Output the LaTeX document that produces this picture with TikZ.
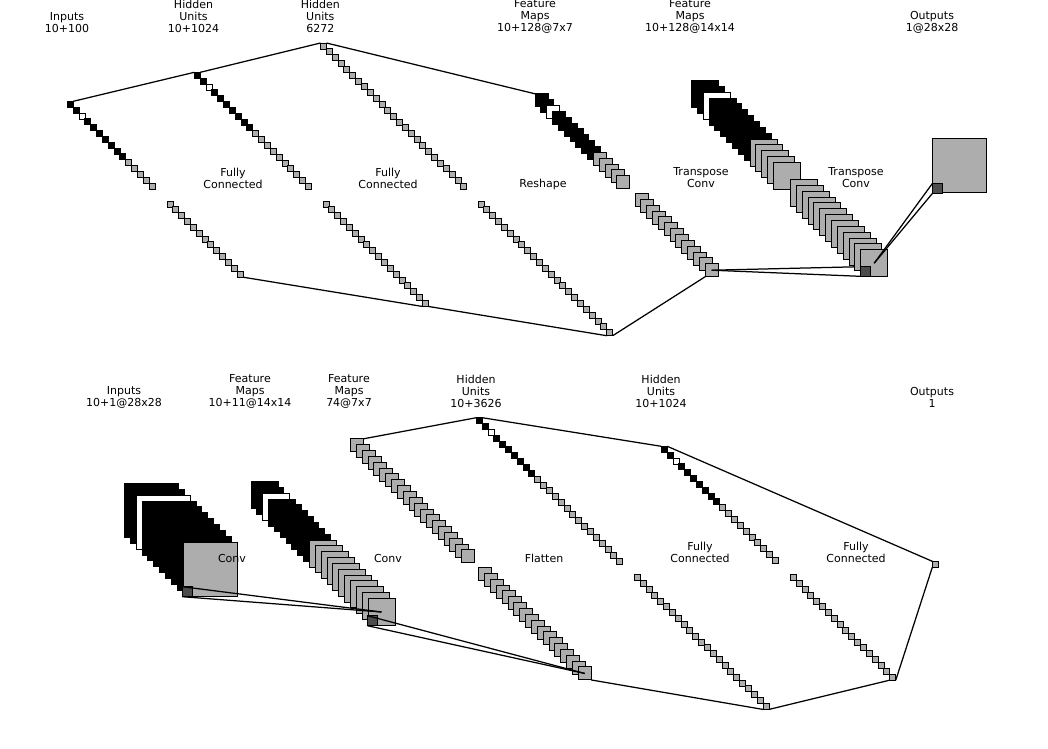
\documentclass[tikz,border=0pt]{standalone}
\usepackage{fontspec}
\setmainfont{DejaVu Sans}
\usetikzlibrary{positioning}
\definecolor{cellgray}{gray}{0.68}
\definecolor{patchgray}{gray}{0.3}
\tikzset{
  cell/.style={draw=black, line width=1pt, inner sep=0pt, outer sep=0pt, rectangle},
  blackcell/.style={cell, fill=black},
  whitecell/.style={cell, fill=white},
  graycell/.style={cell, fill=cellgray},
  patchcell/.style={cell, fill=patchgray, minimum size=10pt},
  link/.style={draw=black, line width=1.25pt},
  caption/.style={align=center, inner sep=0pt, font=\fontsize{11}{12}\selectfont}
}
% name, first x, first y, size, cells, coloured cells
\newcommand{\layerstack}[6]{
  \foreach \i in {1,...,#5}{
    \ifnum\i>#6 \def\cellkind{graycell}\else
      \ifnum\i=3 \def\cellkind{whitecell}\else\def\cellkind{blackcell}\fi
    \fi
    \node[\cellkind, minimum size=#4pt] (#1\i) at ({#2+5.85*(\i-1)},{#3+5.85*(\i-1)}) {};
  }
}
\begin{document}
\begin{tikzpicture}[x=1pt,y=-1pt]
\useasboundingbox (0,0) rectangle (1048,748);

 \begin{scope}
{
% upper net, top line
\layerstack{inA}{70.3}{104.3}{6}{15}{10}
\layerstack{hidA}{197.3}{75.3}{6}{20}{10}
\layerstack{hidB}{323.5}{46}{6}{25}{0}
\layerstack{mapA}{541.5}{100.3}{13}{15}{10}
\layerstack{mapB}{705}{94}{27}{15}{10}
\node[graycell, minimum size=54pt] (outA) at (959.5,165.7) {};
\node[patchcell] (outAp) at (937.5,188.3) {};

% upper net, lower line
\layerstack{fcA}{170}{204}{6}{13}{0}
\layerstack{fcB}{326}{204}{6}{18}{0}
\layerstack{fcC}{481}{204}{6}{23}{0}
\layerstack{tcA}{641.5}{200}{13}{13}{0}

% these two run under the last stack
\coordinate (tcBtop) at (860.3,266.7);
\coordinate (tcBbot) at (860.3,276.3);
\draw[link] (tcA13.center)--(tcBtop);
\draw[link] (tcA13.center)--(tcBbot);

\layerstack{tcB}{804}{193}{27}{13}{0}
\node[patchcell] (tcBp) at (865.5,271.5) {};

\draw[link] (inA1.north east)--(hidA1.north west);
\draw[link] (hidA1.north east)--(hidB1.north west);
\draw[link] (hidB1.north east)--(mapA1.north west);
\draw[link] (fcA13.south east)--(fcB18.south west);
\draw[link] (fcB18.south east)--(fcC23.south west);
\draw[link] (fcC23.south east)--(tcA13.south west);
\draw[link] (tcB13.center)--(outAp.north west);
\draw[link] (tcB13.center)--(outAp.south west);

\node[caption] (capA) at (67,22.7) {Inputs\\10+100};
\node[caption] (capB) at (193.5,16.3) {Hidden\\Units\\10+1024};
\node[caption] (capC) at (320.3,16.3) {Hidden\\Units\\6272};
\node[caption] (capD) at (535,16.3) {Feature\\Maps\\10+128@7x7};
\node[caption] (capE) at (690,16.3) {Feature\\Maps\\10+128@14x14};
\node[caption] (capF) at (932,22.7) {Outputs\\1@28x28};
\node[caption] (capG) at (233,178) {Fully\\Connected};
\node[caption] (capH) at (388,178) {Fully\\Connected};
\node[caption] (capI) at (543,184) {Reshape};
\node[caption] (capJ) at (701,178) {Transpose\\Conv};
\node[caption] (capK) at (856,178) {Transpose\\Conv};
}
\end{scope}

 \begin{scope}
{
% lower net, left stacks
\layerstack{inB}{151.5}{510.5}{54}{11}{10}
\node[patchcell] (inBp) at (187.5,591.7) {};
\layerstack{mapC}{264.5}{495}{27}{21}{10}
\node[patchcell] (mapCp) at (372.5,620.7) {};
\layerstack{mapD}{357}{445.3}{13}{20}{0}
\layerstack{hidC}{479.3}{420.7}{6}{25}{10}
\layerstack{hidD}{664.3}{449.3}{6}{20}{10}
\node[graycell, minimum size=6pt] (outB) at (935.3,564.3) {};

% lower net, lower line
\layerstack{flat}{485.3}{574}{13}{18}{0}
\layerstack{fcD}{637.3}{577.7}{6}{23}{0}
\layerstack{fcE}{793.3}{577.7}{6}{18}{0}

\draw[link] (inBp.north west)--(mapC21.center);
\draw[link] (inBp.south west)--(mapC21.center);
\draw[link] (mapCp.north west)--(flat18.center);
\draw[link] (mapCp.south west)--(flat18.center);
\draw[link] (mapD1.north east)--(hidC1.north west);
\draw[link] (hidC1.north east)--(hidD1.north west);
\draw[link] (hidD1.north east)--(outB.north west);
\draw[link] (flat18.south east)--(fcD23.south west);
\draw[link] (fcD23.south east)--(fcE18.south west);
\draw[link] (fcE18.south east)--(outB.south west);

\node[caption] (capL) at (124,397) {Inputs\\10+1@28x28};
\node[caption] (capM) at (250,391) {Feature\\Maps\\10+11@14x14};
\node[caption] (capN) at (349,391) {Feature\\Maps\\74@7x7};
\node[caption] (capO) at (476,391) {Hidden\\Units\\10+3626};
\node[caption] (capP) at (661,391) {Hidden\\Units\\10+1024};
\node[caption] (capQ) at (932,397) {Outputs\\1};
\node[caption] (capR) at (232,558) {Conv};
\node[caption] (capS) at (388,558) {Conv};
\node[caption] (capT) at (544,558) {Flatten};
\node[caption] (capU) at (700,552) {Fully\\Connected};
\node[caption] (capV) at (856,552) {Fully\\Connected};
}
\end{scope}

\end{tikzpicture}
\end{document}
